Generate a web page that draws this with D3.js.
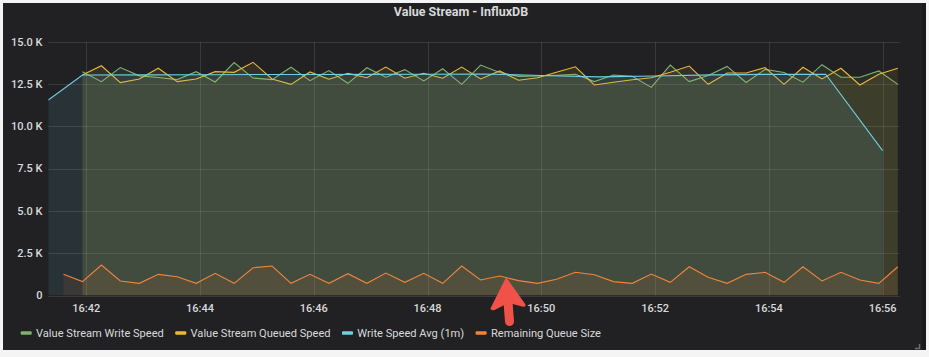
<!DOCTYPE html>
<html><head><meta charset="utf-8">
<script src="https://cdn.jsdelivr.net/npm/d3@7"></script>
<style>
html,body{margin:0;padding:0;background:#f4f4f4;}
svg{display:block;font-family:Roboto,"Noto Sans",sans-serif;}
</style>
</head><body>
<svg id="chart" width="929" height="357"></svg>
<script>
// ---------------- data ----------------
const times = ["16:41:36","16:41:56","16:42:16","16:42:36","16:42:56","16:43:16","16:43:36","16:43:56",
  "16:44:16","16:44:36","16:44:56","16:45:16","16:45:36","16:45:56","16:46:16","16:46:36","16:46:56",
  "16:47:16","16:47:36","16:47:56","16:48:16","16:48:36","16:48:56","16:49:16","16:49:36","16:49:56",
  "16:50:16","16:50:36","16:50:56","16:51:16","16:51:36","16:51:56","16:52:16","16:52:36","16:52:56",
  "16:53:16","16:53:36","16:53:56","16:54:16","16:54:36","16:54:56","16:55:16","16:55:36","16:55:56","16:56:16"];

const writeSpeed = [null,13230,12640,13470,12980,12880,12760,13230,12620,13770,12850,12760,13490,12700,
  13290,12540,13460,12900,13350,12680,13400,12480,13620,13180,12950,12970,13020,13070,12640,13030,
  12950,12300,13620,12640,13000,13540,12590,13360,13180,12610,13640,12900,12900,13270,12480];

const queuedSpeed = [null,13030,13580,12580,12800,13430,12640,12800,13230,13190,13780,12800,12480,13210,
  12780,13130,12870,13500,12840,13130,12840,13500,12800,13270,12720,12870,13200,13520,12440,12600,
  12750,12870,13200,13560,12480,13150,13150,13470,12480,13490,12800,13430,12440,13080,13430];

const queueSize = [1250,820,1800,860,720,1250,1110,720,1310,720,1640,1740,720,1250,720,1290,720,1330,
  780,1310,720,1740,920,1150,880,720,960,1370,1230,820,720,1270,780,1700,1080,720,1250,1370,780,1700,
  860,1370,920,720,1700];

const avgTimes = ["16:41:20","16:41:56","16:43:00","16:44:00","16:45:00","16:46:00","16:47:00","16:48:00",
  "16:49:00","16:50:00","16:51:00","16:52:00","16:53:00","16:54:00","16:55:00","16:56:00"];
const avgSpeed = [11550,13030,13040,13050,13060,13060,13070,13080,13090,13000,12920,12970,13040,13070,13080,8560];

const yTicks = [0,2500,5000,7500,10000,12500,15000];
const yTickLabels = ["0","2.5 K","5.0 K","7.5 K","10.0 K","12.5 K","15.0 K"];
const xTicks = ["16:42","16:44","16:46","16:48","16:50","16:52","16:54","16:56"];
const timeDomain = ["16:41:20","16:56:18"];

const seriesNames = ["Value Stream Write Speed","Value Stream Queued Speed","Write Speed Avg (1m)","Remaining Queue Size"];
const seriesColors = ["#7EB26D","#EAB839","#6ED0E0","#EF843C"];
const title = "Value Stream - InfluxDB";
const arrowAt = {time:"16:49:23", value:1000};

// ---------------- drawing ----------------
const svg = d3.select("#chart");
const pT = d3.utcParse("%H:%M:%S");
const pM = d3.utcParse("%H:%M");

// panel
svg.append("rect").attr("x",3).attr("y",3).attr("width",923).attr("height",347).attr("fill","#1a1a1d");
svg.append("rect").attr("x",3).attr("y",3).attr("width",919).attr("height",347).attr("fill","#212124");

const plot = {left:48.3, right:899.7, top:41.7, bottom:295.5};
const x = d3.scaleUtc().domain(timeDomain.map(pT)).range([plot.left, plot.right]);
const y = d3.scaleLinear().domain([0,15000]).range([plot.bottom, plot.top]);

// title
svg.append("text").attr("x",461).attr("y",16).attr("text-anchor","middle")
  .attr("fill","#d8d9da").attr("font-size",12.5).attr("font-weight",700).text(title);

// grid
const grid = svg.append("g").attr("stroke","rgba(255,255,255,0.11)").attr("stroke-width",1);
grid.selectAll("line.h").data(yTicks).join("line").attr("class","h")
  .attr("x1",plot.left).attr("x2",plot.right)
  .attr("y1",d=>Math.round(y(d))+0.5).attr("y2",d=>Math.round(y(d))+0.5);
grid.selectAll("line.v").data(xTicks).join("line").attr("class","v")
  .attr("x1",d=>Math.round(x(pM(d)))+0.5).attr("x2",d=>Math.round(x(pM(d)))+0.5)
  .attr("y1",plot.top).attr("y2",plot.bottom);

// clip
svg.append("clipPath").attr("id","clip").append("rect")
  .attr("x",plot.left).attr("y",plot.top-2).attr("width",plot.right-plot.left).attr("height",plot.bottom-plot.top+2);

const series = [
  {t:times, v:writeSpeed},
  {t:times, v:queuedSpeed},
  {t:avgTimes, v:avgSpeed},
  {t:times, v:queueSize}
];
const g = svg.append("g").attr("clip-path","url(#clip)");
series.forEach((s,i)=>{
  const pts = s.t.map((t,k)=>({t:pT(t), v:s.v[k]})).filter(d=>d.v!=null);
  const area = d3.area().x(d=>x(d.t)).y0(y(0)).y1(d=>y(d.v));
  const line = d3.line().x(d=>x(d.t)).y(d=>y(d.v));
  g.append("path").attr("d",area(pts)).attr("fill",seriesColors[i]).attr("fill-opacity",0.1);
  g.append("path").attr("d",line(pts)).attr("fill","none").attr("stroke",seriesColors[i]).attr("stroke-width",1.1);
});

// y labels
svg.append("g").selectAll("text").data(yTicks).join("text")
  .attr("x",42.5).attr("y",d=>y(d)).attr("dy","0.35em").attr("text-anchor","end")
  .attr("fill","#d8d9da").attr("font-size",11).attr("font-weight",500)
  .text((d,i)=>yTickLabels[i]);

// x labels
svg.append("g").selectAll("text").data(xTicks).join("text")
  .attr("x",d=>x(pM(d))).attr("y",311.5).attr("text-anchor","middle")
  .attr("fill","#d8d9da").attr("font-size",11).attr("font-weight",500)
  .text(d=>d);

// legend
const lg = svg.append("g");
let lx = 20.7;
const ly = 333;
seriesNames.forEach((n,i)=>{
  lg.append("rect").attr("x",lx).attr("y",ly-1.75).attr("width",11).attr("height",3.5).attr("rx",1)
    .attr("fill",seriesColors[i]);
  const t = lg.append("text").attr("x",lx+15.3).attr("y",ly).attr("dy","0.35em")
    .attr("fill","#d8d9da").attr("font-size",11.1).text(n);
  lx = lx + 15.3 + t.node().getComputedTextLength() + 11.4;
});

// red arrow annotation
const ax = x(pT(arrowAt.time)), ay = y(arrowAt.value);
const arr = svg.append("g").attr("transform",`translate(${ax},${ay})`);
arr.append("line").attr("x1",1.5).attr("y1",20).attr("x2",3.3).attr("y2",43)
  .attr("stroke","#f0524a").attr("stroke-width",9).attr("stroke-linecap","round");
arr.append("path").attr("d","M0,0 L-15,30 Q-14,31.5 -12,30.8 L2,23.5 L17,27.5 Q19,27.8 18.3,25.8 Z")
  .attr("fill","#f0524a").attr("stroke","#f0524a").attr("stroke-width",1.5).attr("stroke-linejoin","round");

// resize handle
svg.append("path").attr("d","M919.5,344 L919.5,348.5 L915,348.5").attr("fill","none")
  .attr("stroke","#6b6b6e").attr("stroke-width",1.5);
</script>
</body></html>
